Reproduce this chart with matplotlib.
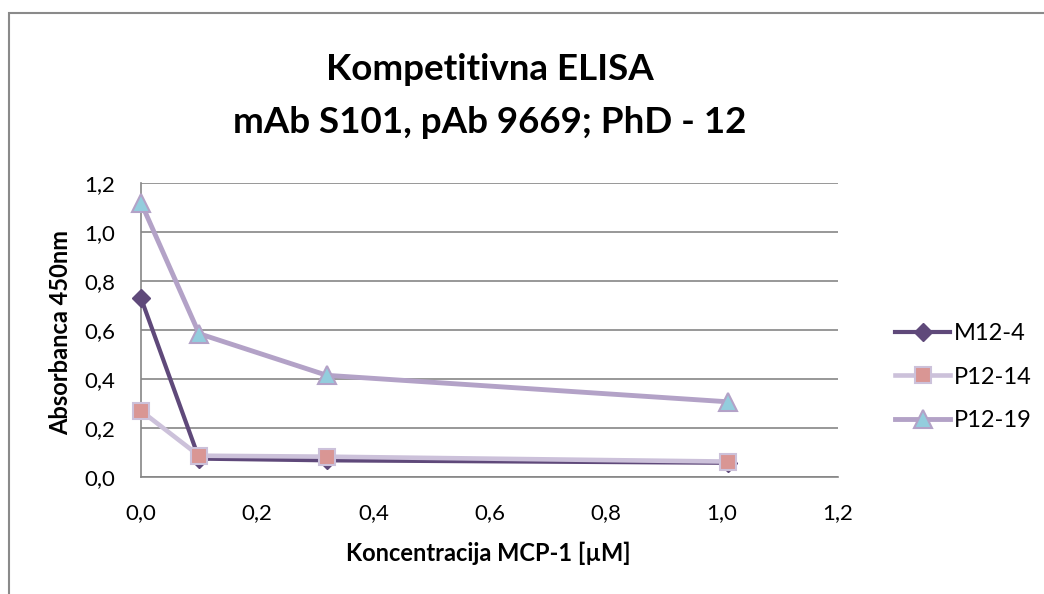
import matplotlib.pyplot as plt
from matplotlib.patches import Rectangle
from matplotlib.ticker import FuncFormatter

# koncentracija MCP-1 [uM] i absorbanca na 450 nm
konc = [0.0, 0.1, 0.32, 1.01]
m12_4 = [0.73, 0.075, 0.068, 0.058]
p12_14 = [0.27, 0.087, 0.083, 0.063]
p12_19 = [1.12, 0.585, 0.415, 0.307]
ticks = [0.0, 0.2, 0.4, 0.6, 0.8, 1.0, 1.2]

plt.rcParams['font.family'] = ['Lato', 'DejaVu Sans']

W, H = 1044, 594
fig = plt.figure(figsize=(W / 100, H / 100), dpi=100)

# okvir grafikona (desni i donji rub su izvan slike)
fig.patches.append(Rectangle((8.5 / W, -0.1), 1.2, 1 - 13 / H + 0.1,
                             transform=fig.transFigure, fill=False,
                             edgecolor='#8a8a8a', linewidth=1.5))

ax = fig.add_axes([141 / W, 1 - 477 / H, 697 / W, 294 / H])

ax.plot(konc, m12_4, color='#5f497a', lw=3, marker='D', ms=9.5,
        mfc='#5f497a', mec='#5f497a', label='M12-4', zorder=3, clip_on=False)
ax.plot(konc, p12_14, color='#ccc1da', lw=3.3, marker='s', ms=12,
        mfc='#d99694', mec='#ccc1da', mew=1.5, label='P12-14', zorder=4,
        clip_on=False)
ax.plot(konc, p12_19, color='#b3a2c7', lw=3.5, marker='^', ms=13,
        mfc='#93cddd', mec='#b3a2c7', mew=1.5, label='P12-19', zorder=5,
        clip_on=False)

ax.set_xlim(0, 1.2)
ax.set_ylim(0, 1.2)
ax.set_xticks(ticks)
ax.set_yticks(ticks)
fmt = FuncFormatter(lambda v, p: ('%.1f' % v).replace('.', ','))
ax.xaxis.set_major_formatter(fmt)
ax.yaxis.set_major_formatter(fmt)
ax.tick_params(labelsize=16, length=0, pad=18.5)
ax.grid(axis='y', color='#868686', lw=1.2)
ax.set_axisbelow(True)
for s in ['top', 'right']:
    ax.spines[s].set_visible(False)
for s in ['left', 'bottom']:
    ax.spines[s].set_color('#868686')
    ax.spines[s].set_linewidth(1.2)

# naslovi osi
fig.text(488 / W, 1 - 561 / H, 'Koncentracija MCP-1 [µM]', ha='center',
         va='baseline', fontsize=17, fontweight='bold')
fig.text(68 / W, 1 - 333 / H, 'Absorbanca 450nm', ha='center', va='baseline',
         rotation=90, rotation_mode='anchor', fontsize=17, fontweight='bold')

# naslov grafikona
fig.text(490 / W, 1 - 80 / H, 'Kompetitivna ELISA', ha='center',
         va='baseline', fontsize=26.5, fontweight='bold')
fig.text(490 / W, 1 - 133 / H, 'mAb S101, pAb 9669; PhD - 12', ha='center',
         va='baseline', fontsize=26.5, fontweight='bold')

ax.legend(loc='center left', bbox_to_anchor=(895 / W, 1 - 377 / H),
          bbox_transform=fig.transFigure, frameon=False, fontsize=17,
          handlelength=2.33, labelspacing=0.95, handletextpad=0.17,
          borderpad=0, borderaxespad=0)

fig.savefig('out.png', dpi=100)
